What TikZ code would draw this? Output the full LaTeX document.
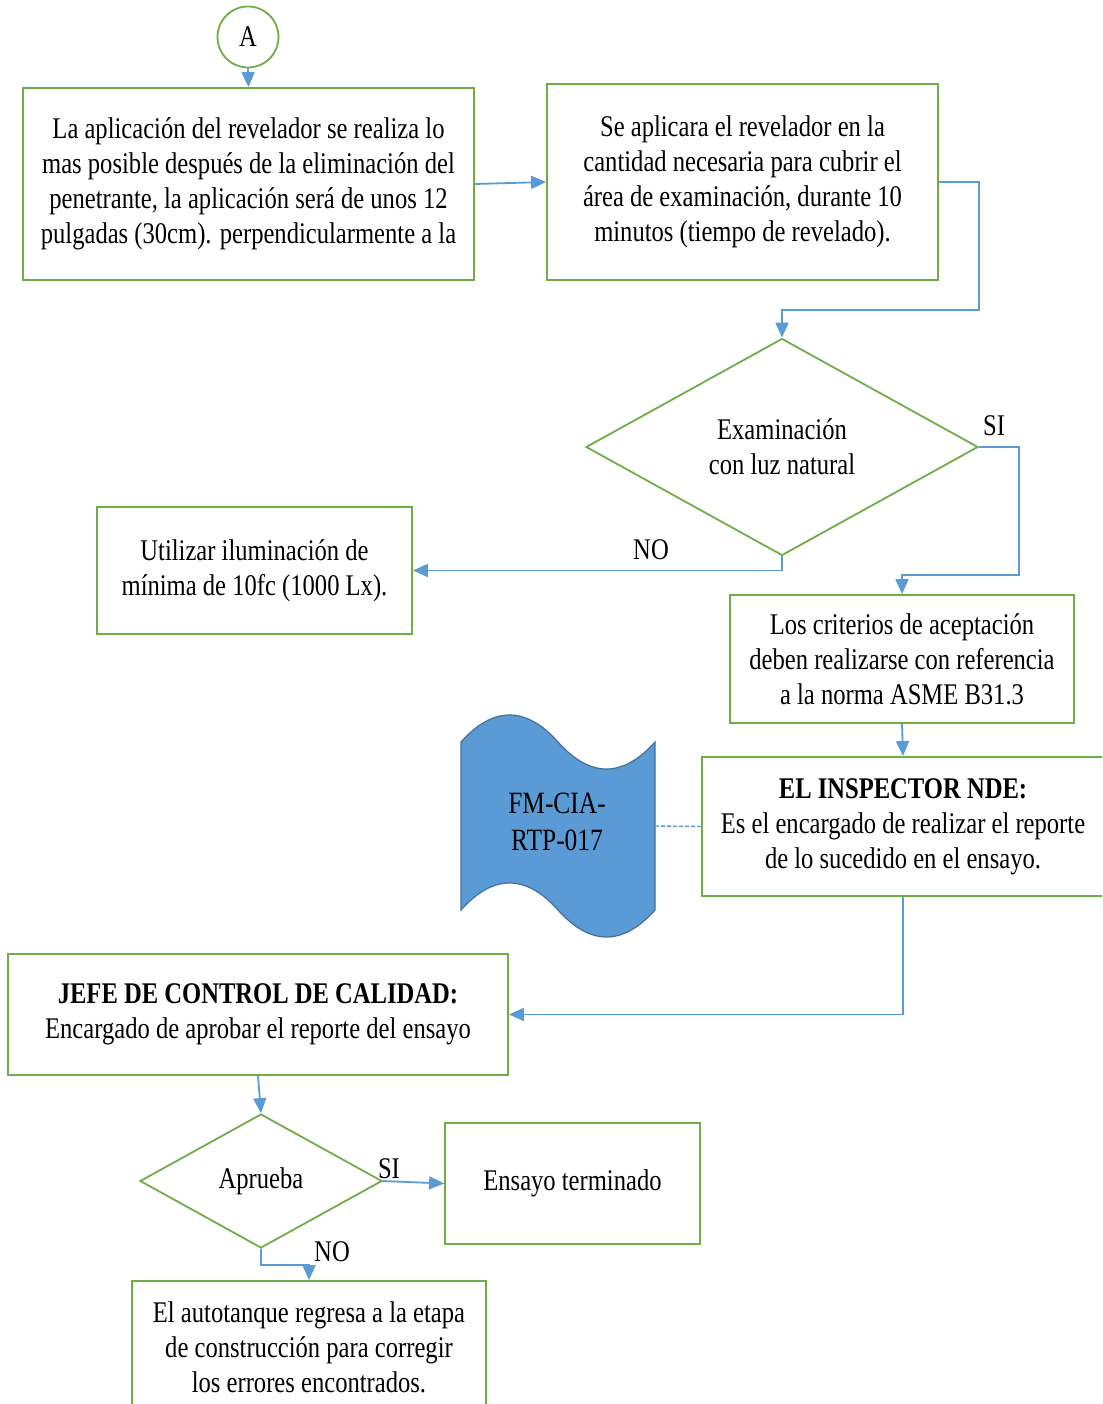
\documentclass[tikz,border=0pt]{standalone}
\usepackage{fontspec}
\setmainfont{Liberation Serif}[FakeStretch=0.82]
\usetikzlibrary{arrows.meta,shapes.geometric,calc}
\definecolor{gborder}{RGB}{112,173,71}
\definecolor{cblue}{RGB}{91,155,213}
\definecolor{tapeedge}{RGB}{65,113,156}
\begin{document}
\begin{tikzpicture}[x=1pt,y=-1pt,
  every node/.style={font=\fontsize{30}{35}\selectfont, align=center, inner sep=0pt},
  gbox/.style={draw=gborder, line width=1.8pt, rectangle},
  gdia/.style={draw=gborder, line width=1.8pt, diamond, inner sep=0pt},
  arr/.style={draw=cblue, line width=1.8pt, -{Triangle[length=15pt,width=13pt]}},
  lab/.style={font=\fontsize{30}{35}\selectfont}]
\useasboundingbox (0,0) rectangle (1102,1404);
\clip (0,0) rectangle (1102,1404);
\fill[white] (0,0) rectangle (1102,1404);

% nodes
\node[draw=gborder, line width=1.8pt, circle, minimum size=61pt] (a) at (248,37) {A};
\node[gbox, minimum width=451pt, minimum height=192pt] (b1) at (248.5,184)
  {\raisebox{-2pt}{}La aplicación  del revelador se realiza lo\\ mas posible  después de la eliminación  del\\ penetrante, la aplicación  será de unos  12\\ pulgadas  (30cm). perpendicularmente  a la};
\node[gbox, minimum width=391pt, minimum height=196pt] (b2) at (742.5,182)
  {Se aplicara el revelador en la\\ cantidad necesaria para cubrir el\\ área de examinación,  durante 10\\ minutos  (tiempo de revelado).};
\node[gdia, minimum width=392pt, minimum height=217pt] (d1) at (782,447)
  {Examinación\\ con luz natural};
\node[gbox, minimum width=315pt, minimum height=127pt] (b3) at (254.5,570.5)
  {Utilizar  iluminación  de\\ mínima  de  10fc (1000 Lx).};
\node[gbox, minimum width=344pt, minimum height=128pt] (b4) at (902,659)
  {Los criterios de aceptación\\ deben realizarse con referencia\\ a la norma  ASME B31.3};
\node[gbox, minimum width=402pt, minimum height=139pt] (b5) at (903,826.5)
  {\textbf{EL INSPECTOR NDE:}\\ Es el encargado de realizar el  reporte\\ de lo sucedido en el ensayo.};
\node[gbox, minimum width=500pt, minimum height=121pt] (b6) at (258,1014.5)
  {\textbf{JEFE DE CONTROL DE CALIDAD:}\\ Encargado de aprobar el reporte del ensayo};
\node[gdia, minimum width=242pt, minimum height=134pt] (d2) at (261,1181) {Aprueba};
\node[gbox, minimum width=255pt, minimum height=121pt] (b7) at (572.5,1183.5) {Ensayo terminado};
\node[gbox, minimum width=354pt, minimum height=133pt] (b8) at (309,1347.5)
  {El autotanque regresa a la etapa\\ de construcción para corregir\\ los  errores encontrados.};

% tape shape
\draw[fill=cblue, draw=tapeedge, line width=1.2pt]
  (461,742) .. controls (493,706) and (526,706) .. (558,742)
            .. controls (590,778) and (623,778) .. (655,742)
  -- (655,910) .. controls (623,946) and (590,946) .. (558,910)
            .. controls (526,874) and (493,874) .. (461,910) -- cycle;
\node[font=\fontsize{31}{37}\selectfont] (tape) at (557,822) {FM-CIA-\\ RTP-017};
\coordinate (tapeR) at (655,826);

% connectors
\draw[arr] (a.south) -- (b1.north);
\draw[arr] (b1.east) -- (b2.west);
\draw[arr] (b2.east) -- (979,182) |- ([yshift=28pt]d1.north) -- (d1.north);
\draw[arr] (d1.east) -- (1019,447) |- ([yshift=19pt]b4.north) -- (b4.north);
\draw[arr] (d1.south) |- (b3.east);
\draw[arr] (b4.south) -- (b5.north);
\draw[cblue, line width=1.4pt, dash pattern=on 4pt off 2pt] (tapeR) -- (b5.west);
\draw[arr] (b5.south) |- (b6.east);
\draw[arr] (b6.south) -- (d2.north);
\draw[arr] (d2.east) -- (b7.west);
\draw[arr] (d2.south) -- (261,1265) -| (b8.north);

% labels
\node[lab] (lsi1) at (994,426) {SI};
\node[lab] (lno1) at (651,550) {NO};
\node[lab] (lsi2) at (389,1169) {SI};
\node[lab] (lno2) at (332,1252) {NO};
\end{tikzpicture}
\end{document}
